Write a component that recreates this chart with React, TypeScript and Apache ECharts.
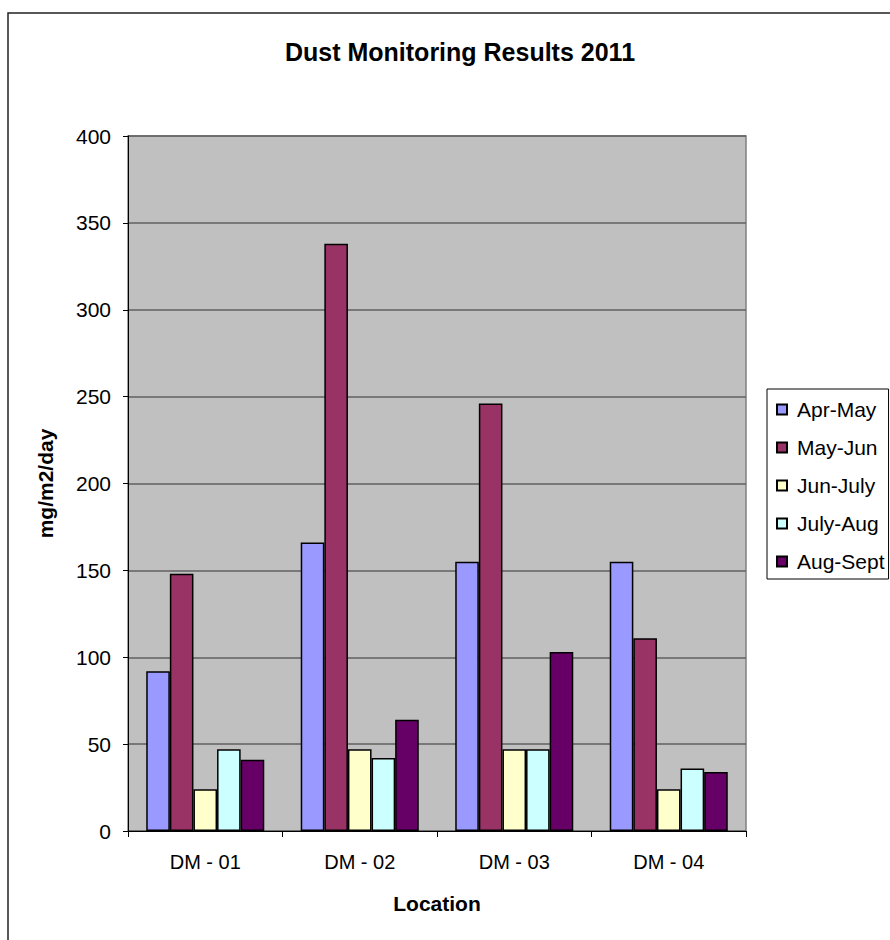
import React, { useEffect, useRef } from "react";
import * as echarts from "echarts";

// Monitoring locations along the x axis
const locations = ["DM - 01", "DM - 02", "DM - 03", "DM - 04"];

// Sampling periods (one series each)
const periods = ["Apr-May", "May-Jun", "Jun-July", "July-Aug", "Aug-Sept"];

// Dust deposition, mg/m2/day, per location
const aprMay = [92, 166, 155, 155];
const mayJun = [148, 338, 246, 111];
const junJuly = [24, 47, 47, 24];
const julyAug = [47, 42, 47, 36];
const augSept = [41, 64, 103, 34];

const seriesValues = [aprMay, mayJun, junJuly, julyAug, augSept];
const seriesColors = ["#9999FF", "#993366", "#FFFFCC", "#CCFFFF", "#660066"];

const FONT = "'Liberation Sans', Arial, sans-serif";

export default function App() {
  const ref = useRef<HTMLDivElement>(null);

  useEffect(() => {
    if (!ref.current) return;
    const chart = echarts.init(ref.current, undefined, { renderer: "svg" });

    chart.setOption({
      animation: false,
      backgroundColor: "#ffffff",
      textStyle: { fontFamily: FONT },
      title: {
        text: "Dust Monitoring Results 2011",
        left: 455,
        top: 34,
        textAlign: "center",
        textStyle: { fontFamily: FONT, fontSize: 25, fontWeight: "bold", color: "#000" },
      },
      graphic: [
        {
          type: "rect",
          shape: { x: 8, y: 13, width: 900, height: 940 },
          style: { fill: "none", stroke: "#222", lineWidth: 1.5 },
          silent: true,
          z: -10,
        },
      ],
      legend: {
        orient: "vertical",
        left: 767,
        top: 389,
        padding: [10, 4, 7, 9],
        itemWidth: 10,
        itemHeight: 10,
        itemGap: 17,
        icon: "rect",
        borderColor: "#000",
        borderWidth: 1,
        backgroundColor: "#fff",
        textStyle: { fontFamily: FONT, fontSize: 21, color: "#000", padding: [0, 0, 0, 5] },
        data: periods,
      },
      grid: {
        left: 128,
        right: 144,
        top: 136,
        bottom: 109,
        show: true,
        backgroundColor: "#C0C0C0",
        borderColor: "#808080",
        borderWidth: 1.5,
      },
      xAxis: {
        type: "category",
        data: locations,
        name: "Location",
        nameLocation: "middle",
        nameGap: 62,
        nameTextStyle: { fontFamily: FONT, fontSize: 21, fontWeight: "bold", color: "#000" },
        axisLine: { show: true, lineStyle: { color: "#000", width: 1 } },
        axisTick: { show: true, alignWithLabel: false, length: 6, lineStyle: { color: "#000" } },
        axisLabel: { fontFamily: FONT, fontSize: 20, color: "#000", margin: 21 },
        splitLine: { show: false },
      },
      yAxis: {
        type: "value",
        min: 0,
        max: 400,
        interval: 50,
        name: "mg/m2/day",
        nameLocation: "middle",
        nameGap: 72,
        nameTextStyle: { fontFamily: FONT, fontSize: 21, fontWeight: "bold", color: "#000" },
        axisLine: { show: true, lineStyle: { color: "#000", width: 1 } },
        axisTick: { show: true, inside: false, length: 5, lineStyle: { color: "#000" } },
        axisLabel: { fontFamily: FONT, fontSize: 21, color: "#000", margin: 17 },
        splitLine: { show: true, lineStyle: { color: "#606060", width: 1.5 } },
      },
      series: periods.map((name, i) => ({
        name,
        type: "bar",
        data: seriesValues[i],
        barGap: "0%",
        barCategoryGap: "23.6%",
        itemStyle: { color: seriesColors[i], borderColor: "#000", borderWidth: 1.5 },
      })),
    });

    return () => chart.dispose();
  }, []);

  return (
    <div
      ref={ref}
      style={{ position: "fixed", left: 0, top: 0, width: 890, height: 940 }}
    />
  );
}
